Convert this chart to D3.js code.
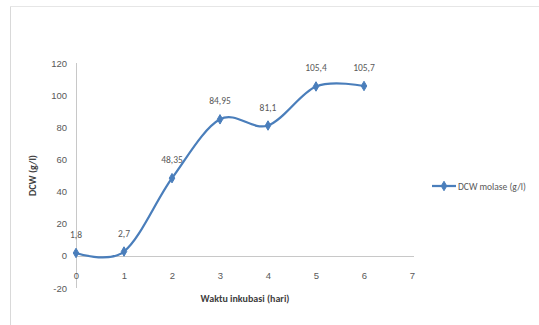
<!DOCTYPE html>
<html>
<head>
<meta charset="utf-8">
<script src="https://cdn.jsdelivr.net/npm/d3@7"></script>
<style>
  html, body { margin: 0; padding: 0; background: #fff; }
  svg { display: block; font-family: Calibri, Carlito, "Liberation Sans", Arial, sans-serif; }
</style>
</head>
<body>
<svg id="chart" width="539" height="325"></svg>
<script>
// Incubation day and dry cell weight (g/l)
const days = [0, 1, 2, 3, 4, 5, 6];
const dcwMolase = [1.8, 2.7, 48.35, 84.95, 81.1, 105.4, 105.7];
const dataLabels = ["1,8", "2,7", "48,35", "84,95", "81,1", "105,4", "105,7"];
const xTicks = [0, 1, 2, 3, 4, 5, 6, 7];
const yTicks = [-20, 0, 20, 40, 60, 80, 100, 120];
const seriesName = "DCW molase (g/l)";
const xTitle = "Waktu inkubasi (hari)";
const yTitle = "DCW (g/l)";

const svg = d3.select("#chart");
const blue = "#4a7ebb";
const axisGrey = "#c8c8c8";
const textGrey = "#595959";

// chart frame
svg.append("line").attr("x1", 10.5).attr("x2", 10.5).attr("y1", 6).attr("y2", 325)
  .attr("stroke", "#d9d9d9");
svg.append("line").attr("x1", 10).attr("x2", 539).attr("y1", 6.5).attr("y2", 6.5)
  .attr("stroke", "#e6e6e6");

const x = d3.scaleLinear().domain([0, 7]).range([76, 412]);
const y = d3.scaleLinear().domain([-20, 120]).range([288, 63]);

// vertical axis line
svg.append("line").attr("x1", x(0) + 0.5).attr("x2", x(0) + 0.5)
  .attr("y1", y(120)).attr("y2", y(-20)).attr("stroke", axisGrey);
// horizontal axis crosses at zero
svg.append("line").attr("x1", x(0)).attr("x2", x(7) + 2)
  .attr("y1", Math.round(y(0)) + 0.5).attr("y2", Math.round(y(0)) + 0.5).attr("stroke", axisGrey);

// y tick labels
const yAxis = d3.axisLeft(y).tickValues(yTicks).tickSize(0).tickPadding(9)
  .tickFormat(d => String(d));
const gy = svg.append("g").attr("transform", `translate(${x(0)},0)`).call(yAxis);
gy.select(".domain").remove();
gy.selectAll("text").attr("fill", textGrey).style("font-size", "9.5px");

// x tick labels sit just above the bottom of the plot
const xAxis = d3.axisBottom(x).tickValues(xTicks).tickSize(0).tickPadding(0)
  .tickFormat(d => String(d));
const gx = svg.append("g").attr("transform", `translate(0,${y(-20) - 16})`).call(xAxis);
gx.select(".domain").remove();
gx.selectAll("text").attr("fill", textGrey).style("font-size", "9.5px");

// axis titles
svg.append("text").attr("x", 245).attr("y", 302).attr("text-anchor", "middle")
  .attr("fill", "#404040").style("font-size", "10px").style("font-weight", "bold").text(xTitle);
svg.append("text").attr("transform", `translate(36,${y(50)}) rotate(-90)`)
  .attr("text-anchor", "middle").attr("fill", "#404040")
  .style("font-size", "10px").style("font-weight", "bold").text(yTitle);

// smoothed series line
const pts = days.map((d, i) => [x(d), y(dcwMolase[i])]);
const line = d3.line().curve(d3.curveCardinal.tension(0));
svg.append("path").attr("d", line(pts)).attr("fill", "none")
  .attr("stroke", blue).attr("stroke-width", 2.25);

// diamond markers
const diamond = d3.symbol().type(d3.symbolDiamond).size(26);
svg.selectAll("path.mk").data(pts).join("path").attr("class", "mk")
  .attr("d", diamond).attr("transform", d => `translate(${d[0]},${d[1]})`)
  .attr("fill", blue).attr("stroke", blue);

// data labels
svg.selectAll("text.lbl").data(days).join("text").attr("class", "lbl")
  .attr("x", (d, i) => x(d)).attr("y", (d, i) => y(dcwMolase[i]) - 15)
  .attr("text-anchor", "middle").attr("fill", textGrey).style("font-size", "9.5px")
  .text((d, i) => dataLabels[i]);

// legend
const ly = 186;
svg.append("line").attr("x1", 432).attr("x2", 456).attr("y1", ly).attr("y2", ly)
  .attr("stroke", blue).attr("stroke-width", 2.25);
svg.append("path").attr("d", diamond).attr("transform", `translate(444,${ly})`)
  .attr("fill", blue).attr("stroke", blue);
svg.append("text").attr("x", 458).attr("y", ly + 3.5).attr("fill", textGrey)
  .style("font-size", "9.5px").text(seriesName);
</script>
</body>
</html>
